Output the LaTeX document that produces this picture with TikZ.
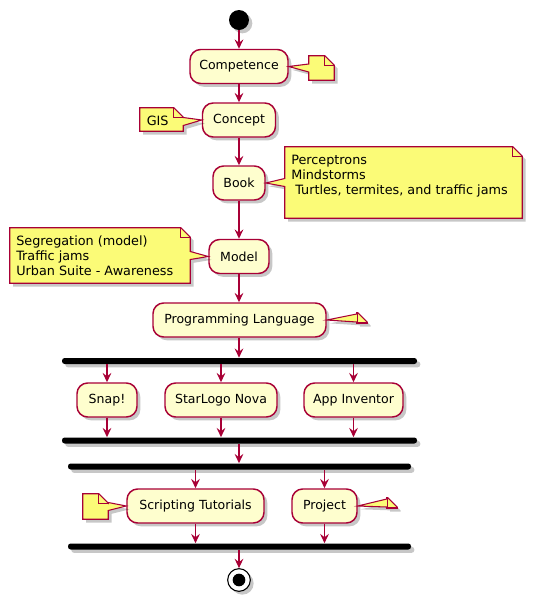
\documentclass[tikz,border=0pt]{standalone}
\usepackage{fontspec}
\setmainfont{DejaVu Sans}
\usetikzlibrary{arrows.meta,shadows,calc}
\definecolor{pumlred}{HTML}{A80036}
\definecolor{pumlfill}{HTML}{FEFECE}
\definecolor{pumlnote}{HTML}{FBFB77}
\newcommand\noteright[3][0pt]{%
  \path[noteshape] (#2.north west) -- ([xshift=-7pt]#2.north east) -- ([yshift=-7pt]#2.north east)
    -- (#2.south east) -- (#2.south west) -- ([yshift=#1-3pt]#2.west) -- (#3.east)
    -- ([yshift=#1+3pt]#2.west) -- cycle;
  \draw[notefold] ([xshift=-7pt]#2.north east) -- ([xshift=-7pt,yshift=-7pt]#2.north east) -- ([yshift=-7pt]#2.north east);
}
\newcommand\noteleft[3][0pt]{%
  \path[noteshape] (#2.north west) -- ([xshift=-7pt]#2.north east) -- ([yshift=-7pt]#2.north east)
    -- ([yshift=#1+3pt]#2.east) -- (#3.west) -- ([yshift=#1-3pt]#2.east)
    -- (#2.south east) -- (#2.south west) -- cycle;
  \draw[notefold] ([xshift=-7pt]#2.north east) -- ([xshift=-7pt,yshift=-7pt]#2.north east) -- ([yshift=-7pt]#2.north east);
}
\begin{document}
\begin{tikzpicture}[x=0.75pt,y=-0.75pt,
  shadowed/.style={drop shadow={shadow xshift=2.5pt,shadow yshift=-2.5pt,opacity=0.22,fill=black}},
  act/.style={draw=pumlred,fill=pumlfill,line width=1.1pt,rounded corners=8pt,minimum height=25.5pt,
    inner xsep=3pt,font=\fontsize{9.4}{11}\selectfont,shadowed},
  bar/.style={fill=black,rounded corners=2pt,inner sep=0pt,minimum height=4.5pt,shadowed},
  flow/.style={draw=pumlred,line width=1.1pt,-{Stealth[length=7pt,width=6.5pt,inset=2.5pt]}},
  noteshape/.style={draw=pumlred,fill=pumlnote,line width=0.8pt,shadowed},
  notefold/.style={draw=pumlred,line width=0.8pt},
  notearea/.style={inner sep=0pt,draw=none},
  notetext/.style={inner sep=0pt,align=left,font=\fontsize{9.6}{11.25}\selectfont}
]
\useasboundingbox (0,0) rectangle (533,601);

% activities
\node[circle,fill=black,minimum size=15pt,inner sep=0pt,shadowed] (start) at (239,20) {};
\node[act,minimum width=73.5pt] (comp) at (239,66.5) {Competence};
\node[act,minimum width=54.75pt] (concept) at (239,120) {Concept};
\node[act,minimum width=39pt] (book) at (239,183) {Book};
\node[act,minimum width=45pt] (model) at (239,256.5) {Model};
\node[act,minimum width=129.75pt] (pl) at (239.5,320) {Programming Language};
\node[bar,minimum width=266.25pt] (fork1) at (239.5,361) {};
\node[act,minimum width=45pt] (snap) at (107,400) {Snap!};
\node[act,minimum width=84pt] (star) at (221,400) {StarLogo Nova};
\node[act,minimum width=74.25pt] (app) at (353.5,400) {App Inventor};
\node[bar,minimum width=266.25pt] (join1) at (239.5,440.5) {};
\node[bar,minimum width=257.25pt] (fork2) at (239.5,466.5) {};
\node[act,minimum width=102.75pt] (script) at (195.5,506) {Scripting Tutorials};
\node[act,minimum width=48.75pt] (project) at (324.5,506) {Project};
\node[bar,minimum width=257.25pt] (join2) at (239.5,546.5) {};
\node[circle,draw=black,fill=white,line width=0.8pt,minimum size=17pt,inner sep=0pt,shadowed] (end) at (239,580) {};
\node[circle,fill=black,minimum size=9.5pt,inner sep=0pt] (endin) at (end) {};

% note areas
\node[notearea,minimum width=18.75pt,minimum height=18pt] (ncomp) at (321.5,68) {};
\node[notearea,minimum width=32.25pt,minimum height=17.25pt] (ngis) at (161.5,119.5) {};
\node[notearea,minimum width=177.75pt,minimum height=53.25pt] (nbook) at (403.5,182.5) {};
\node[notearea,minimum width=135pt,minimum height=41.25pt] (nmodel) at (100,255.5) {};
\node[notearea,minimum width=7.5pt,minimum height=7.5pt] (npl) at (362,318) {};
\node[notearea,minimum width=18.75pt,minimum height=18.75pt] (nscript) at (95.5,506.5) {};
\node[notearea,minimum width=7.5pt,minimum height=7.5pt] (nproj) at (392,503) {};

\noteright{ncomp}{comp}
\noteleft[-1.5pt]{ngis}{concept}
\noteright{nbook}{book}
\noteleft{nmodel}{model}
\noteright{npl}{pl}
\noteleft{nscript}{script}
\noteright{nproj}{project}

\node[notetext,anchor=west] (tgis) at (146.5,120.5) {GIS};
\node[notetext,anchor=north west] (tbook) at (291,154.5) {Perceptrons\\Mindstorms\\\hspace*{3pt}Turtles, termites, and traffic jams};
\node[notetext,anchor=north west] (tmodel) at (16,236) {Segregation (model)\\Traffic jams\\Urban Suite - Awareness};

% connectors
\draw[flow] (start) -- (comp);
\draw[flow] (comp) -- (concept);
\draw[flow] (concept) -- (book);
\draw[flow] (book) -- (model);
\draw[flow] (model) -- (model |- pl.north);
\draw[flow] (model |- pl.south) -- (model |- fork1.north);
\draw[flow] (fork1.south -| snap) -- (snap);
\draw[flow] (fork1.south -| star) -- (star);
\draw[flow] (fork1.south -| app) -- (app);
\draw[flow] (snap) -- (snap |- join1.north);
\draw[flow] (star) -- (star |- join1.north);
\draw[flow] (app) -- (app |- join1.north);
\draw[flow] (join1.south -| end) -- (fork2.north -| end);
\draw[flow] (fork2.south -| script) -- (script);
\draw[flow] (fork2.south -| project) -- (project);
\draw[flow] (script) -- (script |- join2.north);
\draw[flow] (project) -- (project |- join2.north);
\draw[flow] (join2.south -| end) -- (end);
\end{tikzpicture}
\end{document}
